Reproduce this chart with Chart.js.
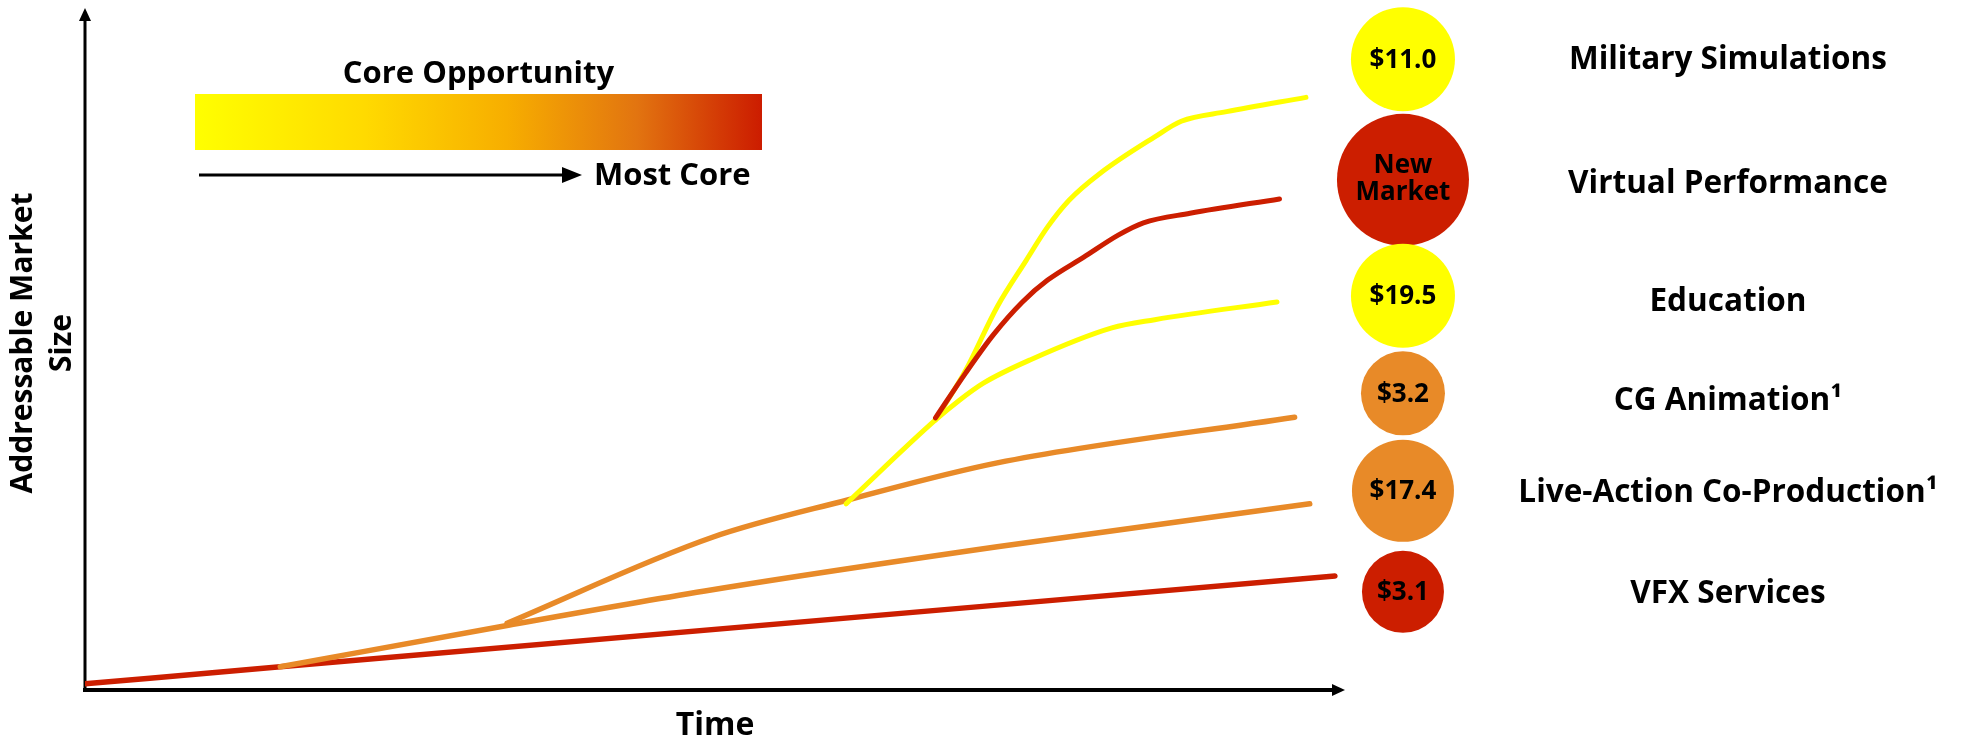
<!DOCTYPE html>
<html>
<head>
<meta charset="utf-8">
<script src="https://cdn.jsdelivr.net/npm/chart.js@4/dist/chart.umd.min.js"></script>
<style>
  html, body { margin: 0; padding: 0; background: #fff; }
  canvas { display: block; }
</style>
</head>
<body>
<canvas id="c" width="1975" height="742"></canvas>
<script>
// Growth paths: time on x, addressable market size on y (0-100 index)
const vfxTime  = [0, 15.5, 99.2];
const vfxSize  = [0.9, 3.4, 16.7];
const liveTime = [15.5, 33.6, 49.8, 72.4, 97.2];
const liveSize = [3.4, 9.5, 14.7, 21.0, 27.3];
const cgTime   = [33.5, 49.8, 60.6, 72.4, 96.0];
const cgSize   = [9.8, 22.4, 27.9, 33.3, 40.0];
const eduTime  = [60.4, 67.5, 69.4, 71.3, 75.0, 81.5, 84.9, 94.6];
const eduSize  = [27.3, 39.6, 42.5, 45.0, 48.4, 53.1, 54.3, 56.9];
const milTime  = [67.5, 69.9, 72.4, 74.7, 76.4, 78.1, 80.6, 84.9, 87.0, 90.6, 96.9];
const milSize  = [39.6, 46.9, 56.2, 63.0, 67.9, 71.8, 75.8, 81.1, 83.4, 84.8, 86.9];
const vpTime   = [67.5, 69.9, 72.1, 74.4, 76.4, 79.3, 82.0, 84.0, 87.7, 94.8];
const vpSize   = [39.9, 46.5, 52.1, 56.9, 60.1, 63.5, 66.7, 68.5, 69.9, 72.0];

// Segments and their addressable market ($B); null = new market
const segments     = ['Military Simulations', 'Virtual Performance', 'Education', 'CG Animation\u00B9', 'Live-Action Co-Production\u00B9', 'VFX Services'];
const marketValues = [11.0, null, 19.5, 3.2, 17.4, 3.1];

// Bubble column layout (market-size rows) and colour by core-ness
const bubbleTime   = 104.6;
const bubbleRows   = [92.5, 74.8, 57.8, 43.5, 29.2, 14.4];
const bubbleRadius = [52, 66, 52, 42, 51, 41];
const labelShift   = [0, 3, 5, 7, 1, 1];

const YELLOW = '#FFFF00', ORANGE = '#E88A28', RED = '#CC1E00';
const bubbleColors = [YELLOW, RED, YELLOW, ORANGE, ORANGE, RED];

const pts = (xs, ys) => xs.map((x, i) => ({ x, y: ys[i] }));
const FONT = '"Open Sans", "DejaVu Sans", sans-serif';

// Bubble column sits beside the plot, so it should not reserve layout padding
class SideBubbleController extends Chart.BubbleController {
  getMaxOverflow() { return 0; }
}
SideBubbleController.id = 'sideBubble';
SideBubbleController.defaults = Chart.BubbleController.defaults;
SideBubbleController.overrides = Chart.BubbleController.overrides;
Chart.register(SideBubbleController);

function lineSet(label, xs, ys, color, width, order) {
  return {
    type: 'line', label, data: pts(xs, ys), borderColor: color, borderWidth: width,
    borderCapStyle: 'round', pointRadius: 0, fill: false,
    cubicInterpolationMode: 'monotone', order
  };
}

const decor = {
  id: 'decor',
  beforeDatasetsDraw(chart) {
    const { ctx, scales: { x, y } } = chart;
    const x0 = x.getPixelForValue(0), x1 = x.getPixelForValue(100);
    const y0 = y.getPixelForValue(0), y1 = y.getPixelForValue(100);
    ctx.save();
    ctx.fillStyle = '#000';
    ctx.strokeStyle = '#000';
    // vertical axis with arrow
    ctx.lineWidth = 3;
    ctx.beginPath(); ctx.moveTo(x0, y0 + 2); ctx.lineTo(x0, y1 + 10); ctx.stroke();
    ctx.beginPath(); ctx.moveTo(x0 - 6, y1 + 13); ctx.lineTo(x0 + 6, y1 + 13); ctx.lineTo(x0, y1); ctx.closePath(); ctx.fill();
    // horizontal axis with arrow
    ctx.lineWidth = 4;
    ctx.beginPath(); ctx.moveTo(x0 - 2, y0); ctx.lineTo(x1 - 10, y0); ctx.stroke();
    ctx.beginPath(); ctx.moveTo(x1 - 13, y0 - 6); ctx.lineTo(x1 - 13, y0 + 6); ctx.lineTo(x1, y0); ctx.closePath(); ctx.fill();

    // axis titles
    ctx.textAlign = 'center';
    ctx.textBaseline = 'middle';
    ctx.font = 'bold 32px ' + FONT;
    ctx.fillText('Time', (x0 + x1) / 2, y0 + 36);
    ctx.save();
    ctx.translate(x0 - 62, (y0 + y1) / 2 - 6);
    ctx.rotate(-Math.PI / 2);
    ctx.font = 'bold 30px ' + FONT;
    ctx.fillText('Addressable Market', 0, 0);
    ctx.fillText('Size', 0, 39);
    ctx.restore();

    // core-opportunity key
    const gx0 = 195, gx1 = 762, gy0 = 94, gy1 = 150;
    const g = ctx.createLinearGradient(gx0, 0, gx1, 0);
    g.addColorStop(0, '#FFFF00');
    g.addColorStop(0.3, '#FFDA00');
    g.addColorStop(0.55, '#F7AE00');
    g.addColorStop(0.78, '#E27410');
    g.addColorStop(1, '#CC1C00');
    ctx.fillStyle = g;
    ctx.fillRect(gx0, gy0, gx1 - gx0, gy1 - gy0);
    ctx.fillStyle = '#000';
    ctx.font = 'bold 31px ' + FONT;
    ctx.fillText('Core Opportunity', (gx0 + gx1) / 2, 74);
    ctx.lineWidth = 3;
    ctx.beginPath(); ctx.moveTo(199, 175); ctx.lineTo(566, 175); ctx.stroke();
    ctx.beginPath(); ctx.moveTo(562, 167); ctx.lineTo(562, 183); ctx.lineTo(582, 175); ctx.closePath(); ctx.fill();
    ctx.textAlign = 'left';
    ctx.fillText('Most Core', 594, 176);
    ctx.restore();
  },
  afterDatasetsDraw(chart) {
    const { ctx } = chart;
    const meta = chart.getDatasetMeta(chart.data.datasets.length - 1);
    ctx.save();
    ctx.fillStyle = '#000';
    ctx.textAlign = 'center';
    ctx.textBaseline = 'middle';
    meta.data.forEach((el, i) => {
      const v = marketValues[i];
      ctx.font = 'bold 26px ' + FONT;
      if (v === null) {
        ctx.fillText('New', el.x, el.y - 14);
        ctx.fillText('Market', el.x, el.y + 13);
      } else {
        ctx.fillText('$' + v.toFixed(1), el.x, el.y + 1);
      }
      ctx.font = 'bold 31.5px ' + FONT;
      ctx.fillText(segments[i], el.x + 325, el.y + 1 + labelShift[i]);
    });
    ctx.restore();
  }
};

new Chart(document.getElementById('c'), {
  data: {
    datasets: [
      lineSet('Virtual Performance', vpTime, vpSize, RED, 5, 0),
      lineSet('Military Simulations', milTime, milSize, YELLOW, 5, 1),
      lineSet('Education', eduTime, eduSize, YELLOW, 5, 2),
      lineSet('CG Animation', cgTime, cgSize, ORANGE, 5.5, 3),
      lineSet('Live-Action Co-Production', liveTime, liveSize, ORANGE, 5.5, 4),
      lineSet('VFX Services', vfxTime, vfxSize, RED, 5.5, 5),
      {
        type: 'sideBubble', label: 'Addressable market',
        data: bubbleRows.map((row, i) => ({ x: bubbleTime, y: row, r: bubbleRadius[i] })),
        backgroundColor: bubbleColors, borderWidth: 0, hoverRadius: 0, clip: false, order: 6
      }
    ]
  },
  options: {
    responsive: false,
    animation: false,
    events: [],
    layout: { padding: { left: 85, right: 0, top: 8, bottom: 52 } },
    scales: {
      x: { type: 'linear', min: 0, max: 150, display: false },
      y: { type: 'linear', min: 0, max: 100, display: false }
    },
    plugins: { legend: { display: false }, tooltip: { enabled: false } }
  },
  plugins: [decor]
});
</script>
</body>
</html>
